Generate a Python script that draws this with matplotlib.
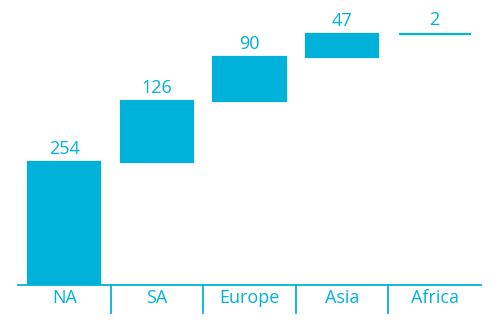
import matplotlib.pyplot as plt

regions = ["NA", "SA", "Europe", "Asia", "Africa"]
values = [254, 126, 90, 47, 2]

CYAN = "#00b2d9"

plt.rcParams["font.family"] = ["Open Sans", "DejaVu Sans"]

fig = plt.figure(figsize=(5, 3.26), dpi=100)
ax = fig.add_axes([0.036, 0.1258, 0.926, 0.813])

# cumulative waterfall: each bar starts where the previous one ended
bottoms = []
running = 0
for v in values:
    bottoms.append(running)
    running += v

x = list(range(len(regions)))
# thin edge keeps the tiny last step visible as a line
ax.bar(x, values, bottom=bottoms, width=0.78, color=CYAN,
       edgecolor=CYAN, linewidth=1.6)

for xi, b, v in zip(x, bottoms, values):
    ax.annotate(str(v), (xi, b + v), xytext=(0, 3), textcoords="offset points",
                ha="center", va="bottom", fontsize=13, color=CYAN)

ax.set_xlim(-0.5, len(regions) - 0.5)
ax.set_ylim(0, 547)

for side in ["top", "right", "left"]:
    ax.spines[side].set_visible(False)
ax.spines["bottom"].set_color(CYAN)
ax.spines["bottom"].set_linewidth(1.3)

ax.set_yticks([])
ax.set_xticks(x)
ax.set_xticklabels(regions, fontsize=13, color=CYAN)
ax.tick_params(axis="x", length=0, pad=3)

# vertical separators between categories, below the axis
trans = ax.get_xaxis_transform()
for xs in [i + 0.5 for i in range(len(regions) - 1)]:
    ax.plot([xs, xs], [0, -0.106], transform=trans, color=CYAN,
            linewidth=1.3, clip_on=False)

fig.savefig("out.png", dpi=100)
